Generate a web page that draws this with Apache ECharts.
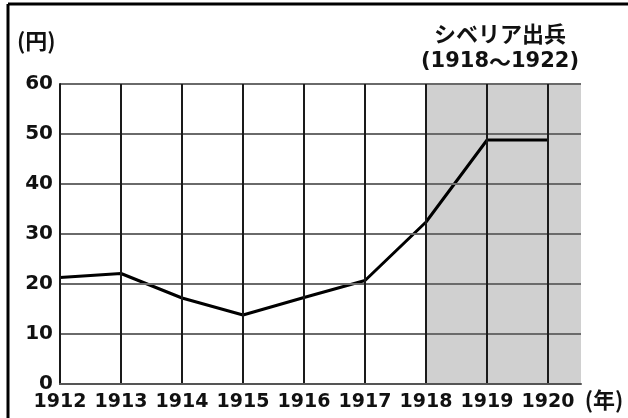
<!DOCTYPE html>
<html>
<head>
<meta charset="utf-8">
<script src="https://cdn.jsdelivr.net/npm/echarts@6/dist/echarts.min.js"></script>
<style>
html,body{margin:0;padding:0;background:#fff}
#divApp{width:628px;height:418px}
</style>
</head>
<body>
<div id="divApp"></div>
<script>
// data
var years = [1912,1913,1914,1915,1916,1917,1918,1919,1920]
var prices = [21.3,22.1,17.2,13.8,17.3,20.7,32.4,48.8,48.8]
var yTicks = [10,20,30,40,50,60]
var warFrom = 1918 // シベリア出兵 shading starts here
var xMax = 1920.54 // grey runs a bit past the last tick

var jpFont = 'bold 22px "Noto Sans CJK JP"'

var vlines = years.slice(1).map(y=>({xAxis:y, lineStyle:{color:'#1a1a1a',width:2,type:'solid'}}))
var hlines = yTicks.map(v=>({yAxis:v, lineStyle:{color:'#6a6a6a',width:2,type:'solid'}}))

var opt = {
  animation:false,
  grid:{left:60,top:84,right:47,bottom:34},
  xAxis:{
    type:'value', min:years[0], max:xMax, interval:1, z:5,
    axisLine:{show:true,lineStyle:{color:'#555',width:2}},
    axisTick:{show:false}, splitLine:{show:false},
    axisLabel:{margin:9,color:'#111',fontSize:19,fontWeight:'bold',fontFamily:'DejaVu Sans',
      showMaxLabel:false, formatter:v=>Number.isInteger(v)?String(v):''}
  },
  yAxis:{
    type:'value', min:0, max:60, interval:10, z:5,
    axisLine:{show:true,lineStyle:{color:'#1a1a1a',width:2}},
    axisTick:{show:false}, splitLine:{show:false},
    axisLabel:{margin:7,color:'#111',fontSize:20,fontWeight:'bold',fontFamily:'DejaVu Sans'}
  },
  series:[
    {type:'line', data:[], z:1, silent:true,
      markArea:{silent:true, itemStyle:{color:'#d0d0d0'}, data:[[{xAxis:warFrom},{xAxis:xMax}]]}},
    {type:'line', data:[], z:2, silent:true,
      markLine:{silent:true, symbol:['none','none'], label:{show:false}, data:hlines.concat(vlines)}},
    {type:'line', z:4, data:years.map((y,i)=>[y,prices[i]]), symbol:'none',
      lineStyle:{color:'#000',width:3}}
  ],
  graphic:[
    {type:'line', shape:{x1:8,y1:4,x2:628,y2:4}, style:{stroke:'#000',lineWidth:3}},
    {type:'line', shape:{x1:8,y1:4,x2:8,y2:418}, style:{stroke:'#000',lineWidth:3}},
    {type:'text', left:17, top:30, style:{text:'(円)', font:jpFont, fill:'#111'}},
    {type:'text', x:500, y:34, style:{text:'シベリア出兵', font:jpFont, fill:'#111', textAlign:'center', textVerticalAlign:'middle'}},
    {type:'text', x:500, y:62, style:{text:'{a|(1918}{b|～}{a|1922)}', textAlign:'center', textVerticalAlign:'middle',
      rich:{a:{font:'bold 21px "DejaVu Sans"', fill:'#111', color:'#111'}, b:{font:'bold 22px "Noto Sans CJK JP"', fill:'#111', color:'#111'}}}},
    {type:'text', x:604, y:400, style:{text:'(年)', font:jpFont, fill:'#111', textAlign:'center', textVerticalAlign:'middle'}}
  ]
}

var chart = echarts.init(document.getElementById('divApp'))
chart.setOption(opt,true)
</script>
</body>
</html>
